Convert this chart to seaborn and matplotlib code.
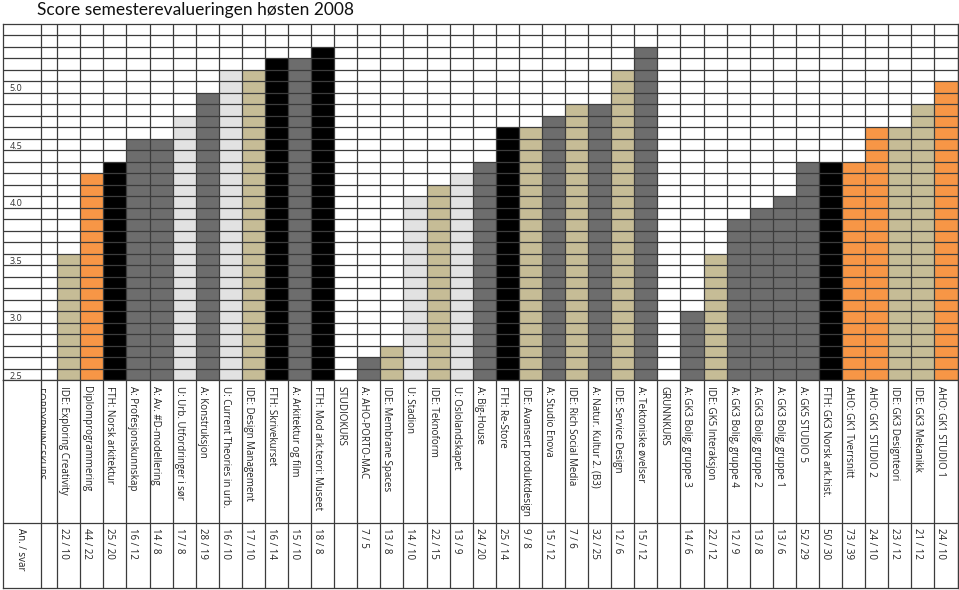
import matplotlib
matplotlib.use("Agg")
import matplotlib.pyplot as plt
import matplotlib.patches as mpatches
import seaborn as sns
import pandas as pd
import numpy as np

# kurs i rekkefolge, header-rader har ingen score
kurs = [
    "IDE: Exploring Creativity", "Diplomprogrammering", "FTH: Norsk arkitektur",
    "A: Profesjonskunnskap", "A: Av. #D-modellering", "U: Urb. Utfordringer i sør",
    "A: Konstruksjon", "U: Current Theories in urb.", "IDE: Design Management",
    "FTH: Skrivekurset", "A: Arkitektur og film", "FTH: Mod ark.teori: Museet",
    "STUDIOKURS",
    "A: AHO-PORTO-MAC", "IDE: Membrane Spaces", "U: Stadion", "IDE: Teknoform",
    "U: Oslolandskapet", "A: Big-House", "FTH: Re-Store", "IDE: Avansert produktdesign",
    "A: Studio Enova", "IDE: Rich Social Media", "A: Natur. Kultur 2. (B3)",
    "IDE: Service Design", "A: Tektoniske øvelser",
    "GRUNNKURS",
    "A: GK3 Bolig, gruppe 3", "IDE: GK5 Interaksjon", "A: GK3 Bolig, gruppe 4",
    "A: GK3 Bolig, gruppe 2", "A: GK3 Bolig, gruppe 1", "A: GK5 STUDIO 5",
    "FTH: GK3 Norsk ark.hist.", "AHO: GK1 Tverrsnitt", "AHO: GK1 STUDIO 2",
    "IDE: GK3 Designteori", "IDE: GK3 Mekanikk", "AHO: GK1 STUDIO 1",
]
score = [
    3.6, 4.3, 4.4, 4.6, 4.6, 4.8, 5.0, 5.2, 5.2, 5.3, 5.3, 5.4,
    np.nan,
    2.7, 2.8, 4.1, 4.2, 4.3, 4.4, 4.7, 4.7, 4.8, 4.9, 4.9, 5.2, 5.4,
    np.nan,
    3.1, 3.6, 3.9, 4.0, 4.1, 4.4, 4.4, 4.4, 4.7, 4.7, 4.9, 5.1,
]
svar = [
    "22 / 10", "44 / 22", "25 / 20", "16 / 12", "14 / 8", "17 / 8", "28 / 19",
    "16 / 10", "17 / 10", "16 / 14", "15 / 10", "18 / 8",
    "",
    "7 / 5", "13 / 8", "14 / 10", "22 / 15", "13 / 9", "24 / 20", "25 / 14",
    "9 / 8", "15 / 12", "7 / 6", "32 / 25", "12 / 6", "15 / 12",
    "",
    "14 / 6", "22 / 12", "12 / 9", "13 / 8", "13 / 6", "52 / 29", "50 / 30",
    "73 / 39", "24 / 10", "23 / 12", "21 / 12", "24 / 10",
]


def avdeling(k):
    if k == "Diplomprogrammering":
        return "AHO"
    if ":" in k:
        return k.split(":")[0]
    return "ingen"


df = pd.DataFrame({"kurs": kurs, "score": score, "svar": svar})
df["avd"] = df["kurs"].apply(avdeling)

farger = {"IDE": "#C6BC96", "AHO": "#F79646", "FTH": "#000000",
          "A": "#6D6D6D", "U": "#E2E2E2", "ingen": "#FFFFFF"}

W, H = 959, 590
fig = plt.figure(figsize=(W / 100, H / 100), dpi=100)

left_px, right_px = 2.7, 957.5
top_px, mid_px, bot_px = 24, 380, 587.5
ax = fig.add_axes([left_px / W, (H - mid_px) / H, (right_px - left_px) / W, (mid_px - top_px) / H])
axt = fig.add_axes([left_px / W, (H - bot_px) / H, (right_px - left_px) / W, (bot_px - mid_px) / H])

sns.barplot(data=df, x="kurs", y="score", hue="avd", palette=farger, order=kurs,
            dodge=False, width=1.0, saturation=1, legend=False, ax=ax, zorder=2,
            linewidth=0, err_kws={"linewidth": 0})

n = len(kurs)
x0 = -2.86
x_smal = -1.22
ax.set_xlim(x0, n - 0.5)
ax.set_ylim(2.5, 5.6)
ax.set_xlabel("")
ax.set_ylabel("")
ax.set_xticks([])
ax.set_yticks([])

linje = "#3c3c3c"
grenser = [x_smal] + list(np.arange(-0.5, n, 1.0))
ax.hlines(np.arange(2.6, 5.55, 0.1), x0, n - 0.5, color=linje, lw=0.9, zorder=3)
ax.vlines(grenser, 2.5, 5.6, color=linje, lw=0.9, zorder=3)
for s in ax.spines.values():
    s.set_color(linje)
    s.set_linewidth(0.9)

for v in np.arange(2.5, 5.01, 0.5):
    ax.text(-2.55, v - 0.005, f"{v:.1f}", fontsize=6.5, color="#333333",
            va="bottom", ha="left", family="Open Sans", zorder=4)

# tabell under grafen
axt.set_xlim(x0, n - 0.5)
axt.set_ylim(bot_px, mid_px)
axt.set_xticks([])
axt.set_yticks([])
axt.vlines(grenser, mid_px, bot_px, color=linje, lw=0.9, zorder=3)
axt.hlines([523], x0, n - 0.5, color=linje, lw=0.9, zorder=3)
for s in axt.spines.values():
    s.set_color(linje)
    s.set_linewidth(0.9)

tekst = dict(rotation=270, ha="center", va="top", fontsize=7,
             color="#222222", family="Open Sans")
for i, row in df.iterrows():
    axt.text(i - 0.22, 386, row["kurs"], **tekst)
    if row["svar"]:
        axt.text(i - 0.22, 528, row["svar"], **tekst)
axt.text(-2.07, 528, "An. / svar", **tekst)

# avkuttet overskrift i den smale kolonnen
t = axt.text(-1.29, 388, "FORDYPNINGSKURS", **tekst)
klipp = mpatches.Rectangle((x_smal, mid_px), 0.72, 140, transform=axt.transData)
t.set_clip_path(klipp)
t.set_clip_on(True)

fig.text(37 / W, 1 - 10 / H, "Score semesterevalueringen høsten 2008",
         fontsize=12.5, family="Lato", va="center", ha="left", color="#111111")

fig.savefig("out.png", dpi=100)
